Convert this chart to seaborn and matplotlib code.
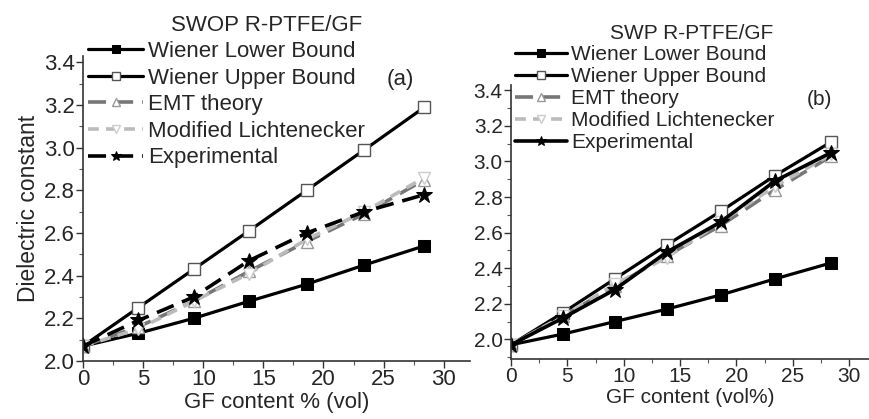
import numpy as np
import matplotlib
matplotlib.use("Agg")
import matplotlib.pyplot as plt
from matplotlib.ticker import MultipleLocator, FormatStrFormatter
import seaborn as sns

# ---- data ----
gf_a = [0, 4.6, 9.2, 13.8, 18.6, 23.4, 28.4]
lower_a = [2.07, 2.13, 2.20, 2.28, 2.36, 2.45, 2.54]
upper_a = [2.07, 2.25, 2.43, 2.61, 2.80, 2.99, 3.19]
emt_a = [2.07, 2.16, 2.28, 2.42, 2.56, 2.69, 2.85]
lich_a = [2.07, 2.15, 2.28, 2.41, 2.57, 2.70, 2.86]
exp_a = [2.07, 2.19, 2.30, 2.47, 2.60, 2.70, 2.78]

gf_b = [0, 4.6, 9.2, 13.8, 18.6, 23.4, 28.4]
lower_b = [1.97, 2.03, 2.10, 2.17, 2.25, 2.34, 2.43]
upper_b = [1.97, 2.15, 2.34, 2.53, 2.72, 2.92, 3.11]
emt_b = [1.97, 2.13, 2.30, 2.47, 2.64, 2.84, 3.03]
lich_b = [1.97, 2.13, 2.31, 2.46, 2.66, 2.86, 3.04]
exp_b = [1.97, 2.12, 2.28, 2.49, 2.66, 2.89, 3.05]

labels = ['Wiener Lower Bound', 'Wiener Upper Bound', 'EMT theory',
          'Modified Lichtenecker', 'Experimental']

sns.set_theme(style='ticks')
plt.rcParams['font.family'] = ['Liberation Sans', 'DejaVu Sans']


def series_styles(exp_ls):
    return [
        dict(color='black', lw=2.3, ls='-', marker='s', ms=8, mfc='black', mec='black'),
        dict(color='black', lw=2.3, ls='-', marker='s', ms=8, mfc='white', mec='#555555', mew=1),
        dict(color='#777777', lw=2.6, ls=(0, (5, 2.5)), marker='^', ms=9, mfc='white', mec='#999999', mew=1),
        dict(color='#bbbbbb', lw=2.6, ls=(0, (3, 2)), marker='v', ms=9, mfc='white', mec='#cccccc', mew=1),
        dict(color='black', lw=2.6, ls=exp_ls, marker='*', ms=12, mfc='black', mec='black'),
    ]


def draw_panel(ax, x, ys, exp_ls, fs_tick, fs_leg, leg_anchor, spacing):
    for y, lab, st in zip(ys, labels, series_styles(exp_ls)):
        sns.lineplot(x=x, y=y, ax=ax, label=lab, **st)
    ax.xaxis.set_major_locator(MultipleLocator(5))
    ax.xaxis.set_minor_locator(MultipleLocator(2.5))
    ax.yaxis.set_major_locator(MultipleLocator(0.2))
    ax.yaxis.set_minor_locator(MultipleLocator(0.1))
    ax.tick_params(axis='both', which='major', labelsize=fs_tick, length=5, width=1,
                   color='#333333', pad=1)
    ax.tick_params(axis='both', which='minor', length=3, width=0.8, color='#555555')
    ax.yaxis.set_major_formatter(FormatStrFormatter('%.1f'))
    sns.despine(ax=ax)
    for s in ('left', 'bottom'):
        ax.spines[s].set_linewidth(1.2)
        ax.spines[s].set_color('#333333')
    ax.legend(loc='upper left', bbox_to_anchor=leg_anchor, bbox_transform=fig.transFigure,
              frameon=False, fontsize=fs_leg, handlelength=2.5, handletextpad=0.2,
              labelspacing=spacing, borderaxespad=0, borderpad=0, markerscale=0.65)


fig = plt.figure(figsize=(8.7, 4.19), dpi=100)
ax1 = fig.add_axes([0.0954, 0.1384, 0.445, 0.728])
ax2 = fig.add_axes([0.5874, 0.1432, 0.412, 0.654])

draw_panel(ax1, gf_a, [lower_a, upper_a, emt_a, lich_a, exp_a], (0, (5, 2.5)),
           16, 16, (0.101, 0.902), 0.25)
ax1.set_xlim(0, 32.2)
ax1.set_ylim(2.0, 3.43)
ax1.set_xlabel('GF content % (vol)', fontsize=16, labelpad=1)
ax1.set_ylabel('Dielectric constant', fontsize=16.5, labelpad=3)
fig.text(0.46, 0.811, '(a)', fontsize=16, ha='center', va='center')
fig.text(0.306, 0.940, 'SWOP R-PTFE/GF', fontsize=16, ha='center', va='center')

draw_panel(ax2, gf_b, [lower_b, upper_b, emt_b, lich_b, exp_b], '-',
           15, 15, (0.592, 0.893), 0.15)
ax2.set_xlim(0, 31.8)
ax2.set_ylim(1.89, 3.43)
ax2.set_xlabel('GF content (vol%)', fontsize=15, labelpad=1)
ax2.set_ylabel('')
fig.text(0.942, 0.762, '(b)', fontsize=15, ha='center', va='center')
fig.text(0.795, 0.921, 'SWP R-PTFE/GF', fontsize=15, ha='center', va='center')

fig.savefig('out.png', dpi=100)
